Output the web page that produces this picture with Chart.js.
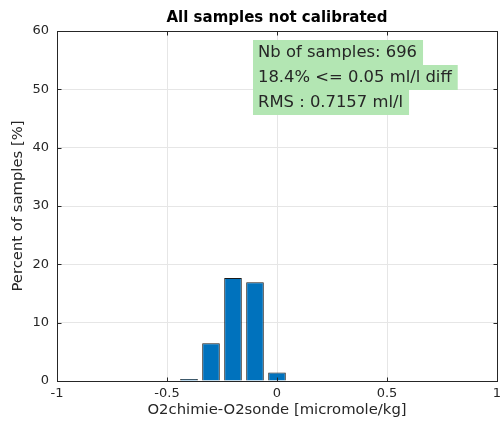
<!DOCTYPE html>
<html>
<head>
<meta charset="utf-8">
<script src="https://cdn.jsdelivr.net/npm/chart.js@4/dist/chart.umd.min.js"></script>
<style>
  html, body { margin: 0; padding: 0; background: #fff; }
  #wrap { width: 501px; height: 423px; }
</style>
</head>
<body>
<div id="wrap"><canvas id="histChart" width="501" height="423"></canvas></div>
<script>
// bin centres and percentage of samples in each bin
const binCenters = [-0.4, -0.3, -0.2, -0.1, 0.0];
const percentValues = [0.14, 6.47, 17.67, 16.95, 1.44];
const xTicks = [-1, -0.5, 0, 0.5, 1];
const yTicks = [0, 10, 20, 30, 40, 50, 60];
const infoLines = ['Nb of samples: 696', '18.4% <= 0.05 ml/l diff', 'RMS : 0.7157 ml/l'];

const textColor = '#262626';
const gridColor = '#e6e6e6';
const fontFamily = '"DejaVu Sans", sans-serif';

// vertical grid lines at the x ticks (the bar chart offsets its own ones)
const xGrid = {
    id: 'xGrid',
    beforeDatasetsDraw(chart) {
        const c = chart.ctx;
        const area = chart.chartArea;
        const xs = chart.scales.x;
        c.save();
        c.strokeStyle = gridColor;
        c.lineWidth = 1;
        c.beginPath();
        xTicks.forEach(v => {
            const px = Math.round(xs.getPixelForValue(v)) + 0.5;
            c.moveTo(px, area.top);
            c.lineTo(px, area.bottom);
        });
        c.stroke();
        c.restore();
    }
};

// title, box border, inner tick marks and green stats box, matlab style
const matlabDecor = {
    id: 'matlabDecor',
    afterDraw(chart) {
        const c = chart.ctx;
        const area = chart.chartArea;
        const xs = chart.scales.x, ys = chart.scales.y;
        c.save();
        c.strokeStyle = '#262626';
        c.lineWidth = 1;
        const L = Math.round(area.left) + 0.5, T = Math.round(area.top) + 0.5;
        const R = Math.round(area.right) + 0.5, B = Math.round(area.bottom) + 0.5;
        c.strokeRect(L, T, R - L, B - T);

        // inward ticks
        c.beginPath();
        xTicks.forEach(v => {
            const px = Math.round(xs.getPixelForValue(v)) + 0.5;
            c.moveTo(px, B); c.lineTo(px, B - 4);
            c.moveTo(px, T); c.lineTo(px, T + 4);
        });
        yTicks.forEach(v => {
            const py = Math.round(ys.getPixelForValue(v)) + 0.5;
            c.moveTo(L, py); c.lineTo(L + 4, py);
            c.moveTo(R, py); c.lineTo(R - 4, py);
        });
        c.stroke();

        c.font = 'bold 15px ' + fontFamily;
        c.fillStyle = '#000';
        c.textAlign = 'center';
        c.textBaseline = 'middle';
        c.fillText('All samples not calibrated', (area.left + area.right) / 2, 18);

        // stats box: each line gets its own background
        c.font = '16.4px ' + fontFamily;
        c.textAlign = 'left';
        const x0 = 253;
        let y0 = 40;
        infoLines.forEach(line => {
            const w = c.measureText(line).width;
            c.fillStyle = '#b3e6b3';
            c.fillRect(x0, y0, w + 11, 25);
            c.fillStyle = textColor;
            c.fillText(line, x0 + 5, y0 + 13);
            y0 += 25;
        });
        c.restore();
    }
};

new Chart(document.getElementById('histChart').getContext('2d'), {
    type: 'bar',
    data: {
        datasets: [{
            data: binCenters.map((x, i) => ({ x: x, y: percentValues[i] })),
            backgroundColor: '#0072bd',
            borderColor: '#1a1a1a',
            borderWidth: 1,
            minBarLength: 2,
            barPercentage: 0.8,
            categoryPercentage: 1.0
        }]
    },
    options: {
        responsive: false,
        animation: false,
        layout: { padding: { top: 31, right: 0, left: 0, bottom: 0 } },
        plugins: {
            legend: { display: false },
            tooltip: { enabled: false }
        },
        scales: {
            x: {
                type: 'linear',
                min: -1,
                max: 1,
                offset: false,
                afterFit: scale => {
                    scale.height = 42;
                    scale.paddingRight = 4;
                    scale.paddingLeft = 0;
                },
                grid: { drawOnChartArea: false, drawTicks: false },
                border: { display: false },
                ticks: {
                    stepSize: 0.5,
                    autoSkip: false,
                    color: textColor,
                    font: { family: fontFamily, size: 13 },
                    padding: 5,
                    maxRotation: 0,
                    callback: v => String(v)
                },
                title: {
                    display: true,
                    text: 'O2chimie-O2sonde [micromole/kg]',
                    color: textColor,
                    font: { family: fontFamily, size: 14.8 },
                    padding: { top: 0, bottom: 4 }
                }
            },
            y: {
                min: 0,
                max: 60,
                afterFit: scale => { scale.width = 57; },
                grid: { color: gridColor, drawTicks: false },
                border: { display: false },
                ticks: {
                    stepSize: 10,
                    autoSkip: false,
                    color: textColor,
                    font: { family: fontFamily, size: 13 },
                    padding: 8
                },
                title: {
                    display: true,
                    text: 'Percent of samples [%]',
                    color: textColor,
                    font: { family: fontFamily, size: 14.8 },
                    padding: { top: 9, bottom: 0 }
                }
            }
        }
    },
    plugins: [xGrid, matlabDecor]
});
</script>
</body>
</html>
